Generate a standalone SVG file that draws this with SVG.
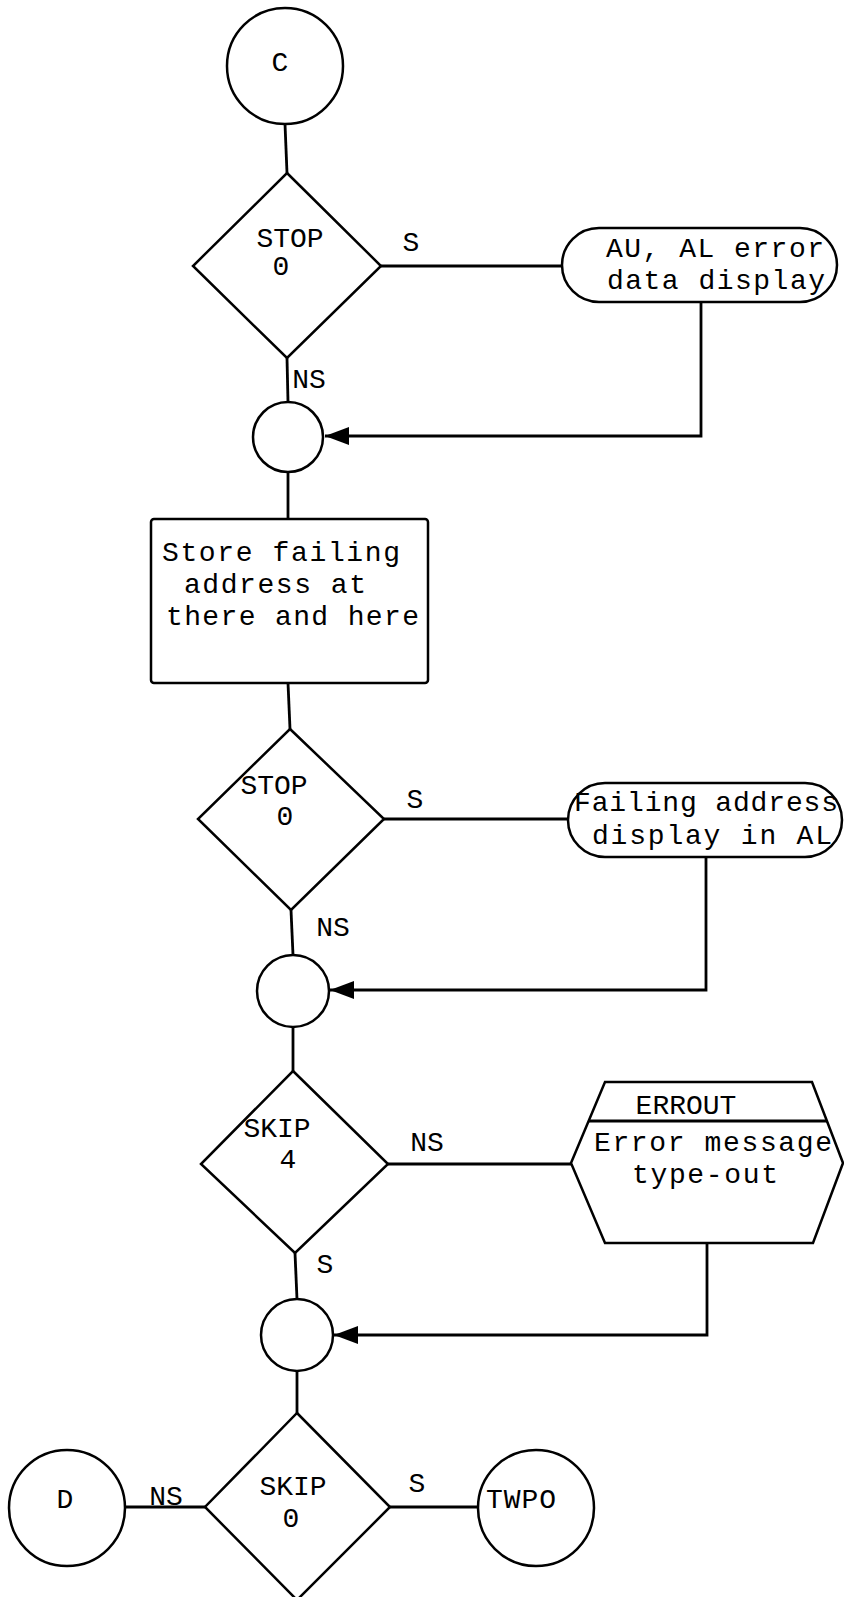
<svg xmlns="http://www.w3.org/2000/svg" width="844" height="1597" viewBox="0 0 844 1597">
<style>
  .shape { fill: none; stroke: #000; stroke-width: 2.5; }
  .conn { fill: none; stroke: #000; stroke-width: 2.8; }
  .box2 { font-family: "Liberation Mono", "DejaVu Sans Mono", monospace; font-size: 28px; fill: #000; }
  .lbl { font-family: "Liberation Mono", "DejaVu Sans Mono", monospace; font-size: 28px; fill: #000; }
  .mid { text-anchor: middle; }
</style>
<defs>
  <marker id="arrow" markerUnits="userSpaceOnUse" markerWidth="24" markerHeight="20" refX="24" refY="10" orient="auto">
    <path d="M0,1 L24,10 L0,19 Z" fill="#000"/>
  </marker>
</defs>
<rect width="844" height="1597" fill="#fff"/>

<g id="connectors">
  <line class="conn" x1="285" y1="124" x2="287" y2="173"/>
  <line class="conn" x1="381" y1="266" x2="562" y2="266"/>
  <polyline class="conn" points="701,302 701,436 325,436" marker-end="url(#arrow)"/>
  <line class="conn" x1="287" y1="358" x2="288" y2="402"/>
  <line class="conn" x1="288" y1="472" x2="288" y2="519"/>
  <line class="conn" x1="288" y1="683" x2="290" y2="729"/>
  <line class="conn" x1="384" y1="819" x2="568" y2="819"/>
  <polyline class="conn" points="706,857 706,990 330,990" marker-end="url(#arrow)"/>
  <line class="conn" x1="291" y1="910" x2="293" y2="955"/>
  <line class="conn" x1="293" y1="1027" x2="293" y2="1071"/>
  <line class="conn" x1="388" y1="1164" x2="571" y2="1164"/>
  <polyline class="conn" points="707,1243 707,1335 334,1335" marker-end="url(#arrow)"/>
  <line class="conn" x1="295" y1="1253" x2="297" y2="1299"/>
  <line class="conn" x1="297" y1="1371" x2="297" y2="1413"/>
  <line class="conn" x1="390" y1="1507" x2="478" y2="1507"/>
  <line class="conn" x1="205" y1="1507" x2="125" y2="1507"/>
  <text class="lbl mid" x="411" y="251">S</text>
  <text class="lbl mid" x="309" y="388">NS</text>
  <text class="lbl mid" x="415" y="808">S</text>
  <text class="lbl mid" x="333" y="936" font-size="26">NS</text>
  <text class="lbl mid" x="427" y="1151" font-size="27">NS</text>
  <text class="lbl mid" x="325" y="1273">S</text>
  <text class="lbl mid" x="417" y="1492">S</text>
  <text class="lbl mid" x="166" y="1505" font-size="26">NS</text>
</g>

<g id="node-c">
  <circle class="shape" cx="285" cy="66" r="58"/>
  <text class="lbl mid" x="280" y="71" font-size="26">C</text>
</g>

<g id="node-stop1">
  <polygon class="shape" points="287,173 381,266 287,358 193,266"/>
  <text class="lbl mid" x="290" y="247">STOP</text>
  <text class="lbl mid" x="281" y="275">0</text>
</g>

<g id="node-display1">
  <rect class="shape" x="562" y="228" width="275" height="74" rx="37" ry="37"/>
  <text class="box2" x="606" y="257" textLength="218">AU, AL error</text>
  <text class="box2" x="607" y="289" textLength="218">data display</text>
</g>

<g id="node-join1">
  <circle class="shape" cx="288" cy="437" r="35"/>
</g>

<g id="node-store">
  <rect class="shape" x="151" y="519" width="277" height="164" rx="3" ry="3"/>
  <text class="box2" x="162" y="561" textLength="238">Store failing</text>
  <text class="box2" x="184" y="593" textLength="182">address at</text>
  <text class="box2" x="166" y="625" textLength="253">there and here</text>
</g>

<g id="node-stop2">
  <polygon class="shape" points="290,729 384,819 291,910 198,819"/>
  <text class="lbl mid" x="274" y="794">STOP</text>
  <text class="lbl mid" x="285" y="825">0</text>
</g>

<g id="node-display2">
  <rect class="shape" x="568" y="783" width="274" height="74" rx="37" ry="37"/>
  <text class="box2" x="574" y="811" textLength="264">Failing address</text>
  <text class="box2" x="592" y="844" textLength="240">display in AL</text>
</g>

<g id="node-join2">
  <circle class="shape" cx="293" cy="991" r="36"/>
</g>

<g id="node-skip4">
  <polygon class="shape" points="293,1071 388,1164 295,1253 201,1164"/>
  <text class="lbl mid" x="277" y="1137">SKIP</text>
  <text class="lbl mid" x="288" y="1168">4</text>
</g>

<g id="node-errout">
  <polygon class="shape" points="605,1082 812,1082 843,1163 813,1243 605,1243 571,1163"/>
  <line x1="589" y1="1121" x2="827" y2="1121" stroke="#000" stroke-width="3.2"/>
  <text class="lbl mid" x="686" y="1114" font-size="27">ERROUT</text>
  <text class="box2" x="594" y="1151" textLength="238">Error message</text>
  <text class="box2" x="632" y="1183" textLength="146">type-out</text>
</g>

<g id="node-join3">
  <circle class="shape" cx="297" cy="1335" r="36"/>
</g>

<g id="node-skip0">
  <polygon class="shape" points="297,1413 390,1507 297,1600 205,1507"/>
  <text class="lbl mid" x="293" y="1495">SKIP</text>
  <text class="lbl mid" x="291" y="1527" fill="#555">0</text>
</g>

<g id="node-d">
  <circle class="shape" cx="67" cy="1508" r="58"/>
  <text class="lbl mid" x="65" y="1508" font-size="26">D</text>
</g>

<g id="node-twpo">
  <circle class="shape" cx="536" cy="1508" r="58"/>
  <text class="lbl mid" x="521" y="1508" textLength="70">TWPO</text>
</g>
</svg>
